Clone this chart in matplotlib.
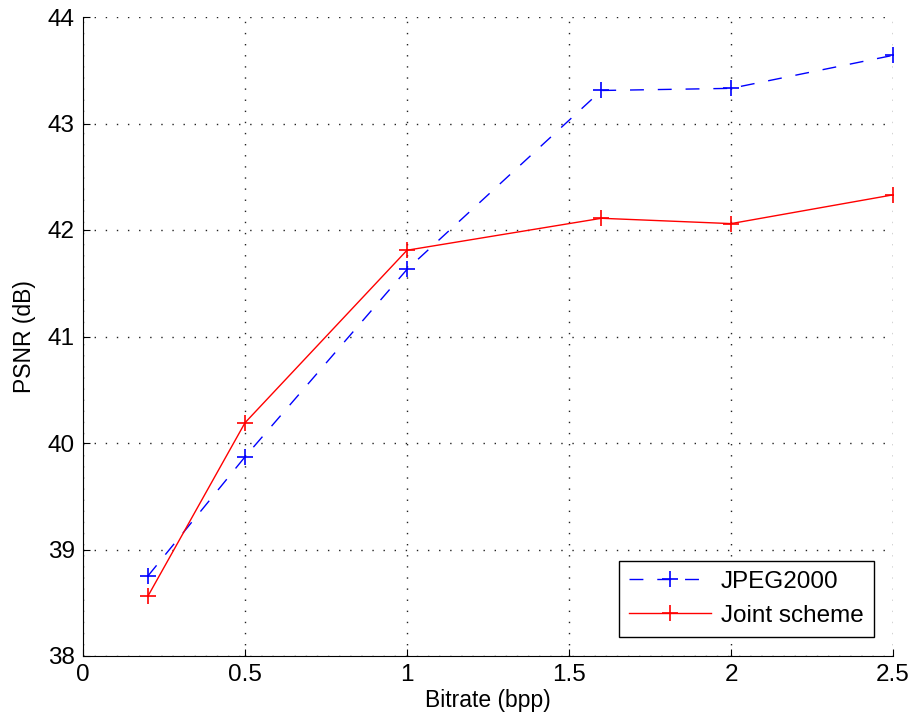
import matplotlib
matplotlib.use("Agg")
import matplotlib.pyplot as plt

bitrate = [0.2, 0.5, 1.0, 1.6, 2.0, 2.5]
psnr_jpeg2000 = [38.75, 39.87, 41.63, 43.31, 43.33, 43.64]
psnr_joint = [38.56, 40.19, 41.81, 42.11, 42.06, 42.33]

plt.rcParams['font.family'] = ['Liberation Sans', 'DejaVu Sans']

fig = plt.figure(figsize=(9.13, 7.23), dpi=100)
ax = fig.add_axes([83 / 913, 1 - 656 / 723, 810 / 913, 639 / 723])

ax.plot(bitrate, psnr_jpeg2000, color='#0000ff', linestyle=(0, (10, 10)), linewidth=1.0,
        marker='+', markersize=12, markeredgewidth=1.2, label='JPEG2000')
ax.plot(bitrate, psnr_joint, color='#ff0000', linestyle='-', linewidth=1.0,
        marker='+', markersize=12, markeredgewidth=1.2, label='Joint scheme')

ax.set_xlim(0, 2.5)
ax.set_ylim(38, 44)
ax.set_xticks([0, 0.5, 1, 1.5, 2, 2.5])
ax.set_xticklabels(['0', '0.5', '1', '1.5', '2', '2.5'])
ax.set_yticks([38, 39, 40, 41, 42, 43, 44])

ax.grid(True, linestyle=(0, (1, 7)), color='#222222', linewidth=1.0)
ax.spines['top'].set_visible(False)
ax.spines['right'].set_visible(False)
ax.tick_params(direction='in', length=5, labelsize=17.5, pad=6)

ax.set_xlabel('Bitrate (bpp)', fontsize=16.5, labelpad=2)
ax.set_ylabel('PSNR (dB)', fontsize=16.5, labelpad=8)

leg = ax.legend(loc='lower right', fontsize=17.5, fancybox=False, framealpha=1,
                edgecolor='black', handlelength=3.4, borderaxespad=0.8,
                borderpad=0.4, labelspacing=0.5, handletextpad=0.4)
leg.get_frame().set_linewidth(1.0)

fig.savefig('out.png', dpi=100)
